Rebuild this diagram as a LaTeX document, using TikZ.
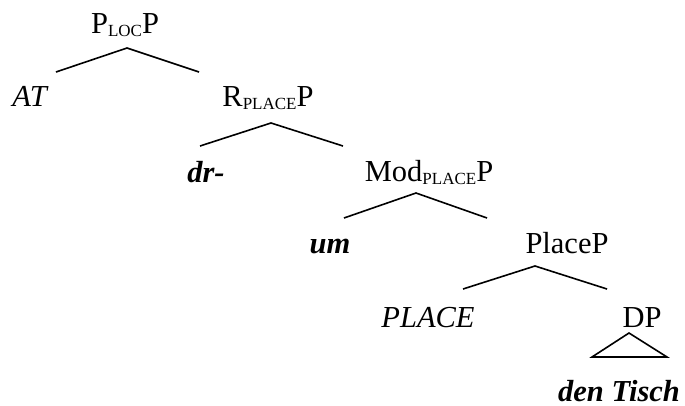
\documentclass[tikz,border=0pt]{standalone}
\usepackage{fontspec}
\setmainfont{Liberation Serif}
\newcommand\sbx[1]{\raisebox{-0.12em}{\fontsize{17}{17}\selectfont #1}}
\begin{document}
\begin{tikzpicture}[x=1pt,y=-1pt,
  lab/.style={anchor=base,inner sep=0pt,font=\fontsize{30.5}{36}\selectfont},
  branch/.style={line width=1.6pt,line join=miter}]
\useasboundingbox (0,0) rectangle (685,405);
% nodes
\node[lab] (ploc) at (125,33) {P\sbx{LOC}P};
\node[lab] (at) at (29.5,106) {\itshape AT};
\node[lab] (rplace) at (268,106) {R\sbx{PLACE}P};
\node[lab] (dr) at (206,182) {\bfseries\itshape dr-};
\node[lab] (mod) at (429,181) {Mod\sbx{PLACE}P};
\node[lab] (um) at (330,253) {\bfseries\itshape um};
\node[lab] (placep) at (567,253) {PlaceP};
\node[lab] (place) at (428,327) {\itshape PLACE};
\node[lab] (dp) at (642,327) {DP};
\node[lab] (den) at (619,401) {\bfseries\itshape den Tisch};
% branch points
\coordinate (a1) at (127,48); \coordinate (l1) at (56,72);  \coordinate (r1) at (199,72);
\coordinate (a2) at (271,123); \coordinate (l2) at (200,146); \coordinate (r2) at (343,146);
\coordinate (a3) at (416,193); \coordinate (l3) at (344,218); \coordinate (r3) at (487,218);
\coordinate (a4) at (535,266); \coordinate (l4) at (463,289); \coordinate (r4) at (607,289);
\coordinate (a5) at (629,333); \coordinate (l5) at (592,357); \coordinate (r5) at (667,357);
\draw[branch] (l1) -- (a1) -- (r1);
\draw[branch] (l2) -- (a2) -- (r2);
\draw[branch] (l3) -- (a3) -- (r3);
\draw[branch] (l4) -- (a4) -- (r4);
\draw[branch] (l5) -- (a5) -- (r5) -- cycle;
\end{tikzpicture}
\end{document}
